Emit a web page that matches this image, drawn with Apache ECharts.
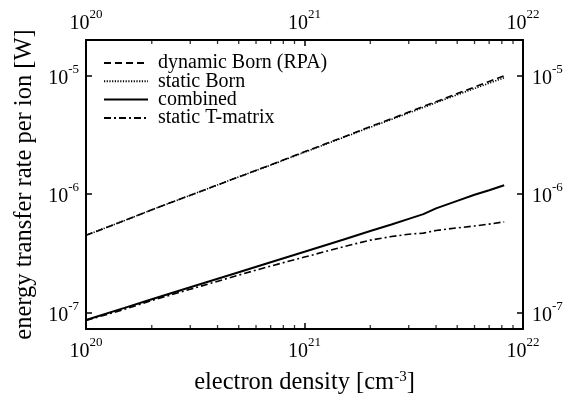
<!DOCTYPE html>
<html>
<head>
<meta charset="utf-8">
<script src="https://cdn.jsdelivr.net/npm/echarts@6/dist/echarts.min.js"></script>
<style>
  html, body { margin: 0; padding: 0; background: #fff; }
  #chart { width: 579px; height: 396px; }
</style>
</head>
<body>
<div id="chart"></div>
<script>
// electron density [cm^-3]
const density = [1e20, 1.5e20, 2e20, 3e20, 5e20, 7e20, 1e21, 1.5e21, 2e21, 2.5e21, 3e21, 3.5e21, 4e21, 5e21, 6e21, 7e21, 8.2e21]

// energy transfer rate per ion [W]
const dynamicBorn = [4.5e-7, 6.0e-7, 7.4e-7, 9.8e-7, 1.40e-6, 1.77e-6, 2.28e-6, 3.03e-6, 3.72e-6, 4.33e-6, 4.94e-6, 5.5e-6, 6.04e-6, 7.07e-6, 8.03e-6, 8.95e-6, 1.0e-5]
const staticBorn = [4.5e-7, 6.0e-7, 7.4e-7, 9.8e-7, 1.40e-6, 1.76e-6, 2.26e-6, 3.0e-6, 3.67e-6, 4.27e-6, 4.85e-6, 5.4e-6, 5.92e-6, 6.9e-6, 7.8e-6, 8.65e-6, 9.6e-6]
const combined = [8.7e-8, 1.10e-7, 1.30e-7, 1.64e-7, 2.20e-7, 2.67e-7, 3.27e-7, 4.13e-7, 4.9e-7, 5.55e-7, 6.2e-7, 6.8e-7, 7.6e-7, 8.8e-7, 9.9e-7, 1.08e-6, 1.19e-6]
const tMatrix = [8.6e-8, 1.07e-7, 1.27e-7, 1.58e-7, 2.08e-7, 2.48e-7, 2.95e-7, 3.6e-7, 4.1e-7, 4.4e-7, 4.6e-7, 4.7e-7, 4.95e-7, 5.2e-7, 5.4e-7, 5.6e-7, 5.85e-7]

// axis ranges and minor tick positions
const xRange = [1e20, 1e22]
const yRange = [7.3e-8, 2e-5]
const xMinorTicks = [2e20, 3e20, 4e20, 5e20, 6e20, 7e20, 8e20, 9e20, 2e21, 3e21, 4e21, 5e21, 6e21, 7e21, 8e21, 9e21]

const serif = '"Liberation Serif", "DejaVu Serif", serif'
const lg = Math.log10

// both axes are logarithmic: values are placed on value axes by their decade exponent
const pair = (ys) => density.map((x, i) => [lg(x), lg(ys[i])])

function powLabel(v) {
  return '{b|10}{s|' + Math.round(v) + '}'
}

const labelRich = {
  b: { fontFamily: serif, fontSize: 20, color: '#000', lineHeight: 26, verticalAlign: 'bottom' },
  s: { fontFamily: serif, fontSize: 13, color: '#000', lineHeight: 14, verticalAlign: 'top' }
}

function decadeAxis(position, range, extra) {
  return Object.assign({
    type: 'value',
    position: position,
    min: lg(range[0]),
    max: lg(range[1]),
    scale: true,
    splitLine: { show: false },
    axisLine: { show: true, onZero: false, lineStyle: { color: '#000', width: 2 } },
    axisTick: { show: true, inside: true, length: 6, lineStyle: { color: '#000', width: 1.5 } },
    minorTick: { show: false }
  }, extra)
}

const chart = echarts.init(document.getElementById('chart'), null, { renderer: 'canvas' })

chart.setOption({
  animation: false,
  backgroundColor: '#fff',
  grid: { left: 86, right: 56, top: 40, bottom: 67, containLabel: false, outerBoundsMode: 'none' },
  legend: {
    left: 103,
    top: 53,
    padding: 0,
    orient: 'vertical',
    itemWidth: 44,
    itemHeight: 14,
    itemGap: -1.7,
    data: ['dynamic Born (RPA)', 'static Born', 'combined', 'static T-matrix'],
    formatter: (name) => ' ' + name,
    itemStyle: { opacity: 0, color: 'rgba(0,0,0,0)', borderColor: 'rgba(0,0,0,0)', borderWidth: 0 },
    textStyle: { fontFamily: serif, fontSize: 20, color: '#000' }
  },
  xAxis: [
    decadeAxis('bottom', xRange, {
      interval: 1,
      name: 'electron density [cm{s|-3}]',
      nameLocation: 'middle',
      nameGap: 41,
      nameTextStyle: {
        fontFamily: serif, fontSize: 24.5, color: '#000',
        rich: { s: { fontFamily: serif, fontSize: 15, color: '#000', verticalAlign: 'top', lineHeight: 14 } }
      },
      axisLabel: { formatter: powLabel, rich: labelRich, margin: 7 }
    }),
    decadeAxis('top', xRange, {
      interval: 1,
      axisLabel: { formatter: powLabel, rich: labelRich, margin: 6 }
    })
  ],
  yAxis: [
    decadeAxis('left', yRange, {
      splitNumber: 3,
      name: 'energy transfer rate per ion [W]',
      nameLocation: 'middle',
      nameGap: 44,
      nameTextStyle: { fontFamily: serif, fontSize: 24.5, color: '#000' },
      axisLabel: { formatter: powLabel, rich: labelRich, margin: 7, showMinLabel: false, showMaxLabel: false }
    }),
    decadeAxis('right', yRange, {
      splitNumber: 3,
      axisLabel: { formatter: powLabel, rich: labelRich, margin: 9, showMinLabel: false, showMaxLabel: false }
    })
  ],
  series: [
    {
      name: 'dynamic Born (RPA)',
      type: 'line',
      showSymbol: false,
      symbol: 'none',
      itemStyle: { color: '#000' },
      lineStyle: { color: '#000', width: 1.6, type: [7, 4] },
      data: pair(dynamicBorn)
    },
    {
      name: 'static Born',
      type: 'line',
      showSymbol: false,
      symbol: 'none',
      itemStyle: { color: '#000' },
      lineStyle: { color: '#000', width: 1.6, type: [1.2, 1.5] },
      data: pair(staticBorn)
    },
    {
      name: 'combined',
      type: 'line',
      showSymbol: false,
      symbol: 'none',
      itemStyle: { color: '#000' },
      lineStyle: { color: '#000', width: 2 },
      data: pair(combined)
    },
    {
      name: 'static T-matrix',
      type: 'line',
      showSymbol: false,
      symbol: 'none',
      itemStyle: { color: '#000' },
      lineStyle: { color: '#000', width: 1.6, type: [7, 3, 2, 3] },
      data: pair(tMatrix)
    },
    // minor log ticks on bottom and top frame
    {
      type: 'scatter',
      silent: true,
      clip: false,
      symbol: 'rect',
      symbolSize: [1.3, 4],
      symbolOffset: [0, -2],
      itemStyle: { color: '#000' },
      data: xMinorTicks.map((x) => [lg(x), lg(yRange[0])])
    },
    {
      type: 'scatter',
      silent: true,
      clip: false,
      symbol: 'rect',
      symbolSize: [1.3, 4],
      symbolOffset: [0, 2],
      itemStyle: { color: '#000' },
      data: xMinorTicks.map((x) => [lg(x), lg(yRange[1])])
    }
  ]
})
</script>
</body>
</html>
